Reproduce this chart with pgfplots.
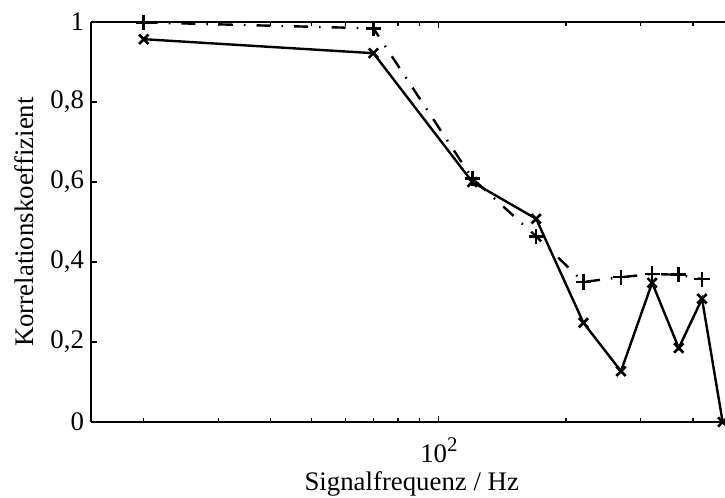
\documentclass[border=0pt]{standalone}
\usepackage{fontspec}
\setmainfont{Liberation Serif}
\usepackage{pgfplots}
\pgfplotsset{compat=1.18}
\begin{document}
\begin{tikzpicture}
\begin{axis}[
  font=\fontsize{13.4}{16}\selectfont,
  xmode=log, scale only axis, width=317.75pt, height=200pt,
  xmin=15, xmax=480, ymin=0, ymax=1,
  axis x line*=box, axis y line*=left,
  axis line style={line width=0.75pt},
  xtick={100},
  xticklabels={10\raisebox{5.5pt}{\fontsize{10.4}{12}\selectfont 2}},
  minor xtick={20,30,40,50,60,70,80,90,200,300,400},
  ytick={0,0.2,0.4,0.6,0.8,1}, yticklabels={0,{0,2},{0,4},{0,6},{0,8},1},
  tick align=inside, xtick pos=both, ytick pos=left,
  major tick length=3pt, minor tick length=1.8pt,
  tick style={line width=0.6pt, black},
  xticklabel style={anchor=base, yshift=-20.5pt},
  every axis x label/.style={at={(rel axis cs:0.5,0)}, anchor=base, yshift=-34.5pt, xshift=1.5pt},
  every axis y label/.style={at={(rel axis cs:0,0.5)}, xshift=-33.5pt, rotate=90, anchor=center},
  xlabel={Signalfrequenz / Hz},
  ylabel={Korrelationskoeffizient},
  clip=false,
]
% correlation, second measurement (dash-dot, plus marks)
\addplot[black, line width=1.2pt, dash pattern=on 7pt off 5.5pt on 0.8pt off 5.5pt,
  mark=+, mark size=3.8pt, mark options={solid, line width=1.3pt}]
  coordinates {(20,0.999) (70,0.984) (120,0.609) (170,0.464) (220,0.350)
               (270,0.362) (320,0.370) (370,0.368) (420,0.357)};
% correlation, first measurement (solid, cross marks)
\addplot[black, line width=1.2pt,
  mark=x, mark size=3.3pt, mark options={solid, line width=1.3pt}]
  coordinates {(20,0.957) (70,0.922) (120,0.600) (170,0.508) (220,0.248)
               (270,0.127) (320,0.348) (370,0.185) (420,0.308) (470,0)};
\coordinate (bl) at (rel axis cs:0,0);
\coordinate (tr) at (rel axis cs:1,1);
\end{axis}
\pgfresetboundingbox
\path[use as bounding box] ([xshift=-45.5pt,yshift=-38pt]bl) rectangle ([xshift=-0.75pt,yshift=11pt]tr);
\end{tikzpicture}
\end{document}
